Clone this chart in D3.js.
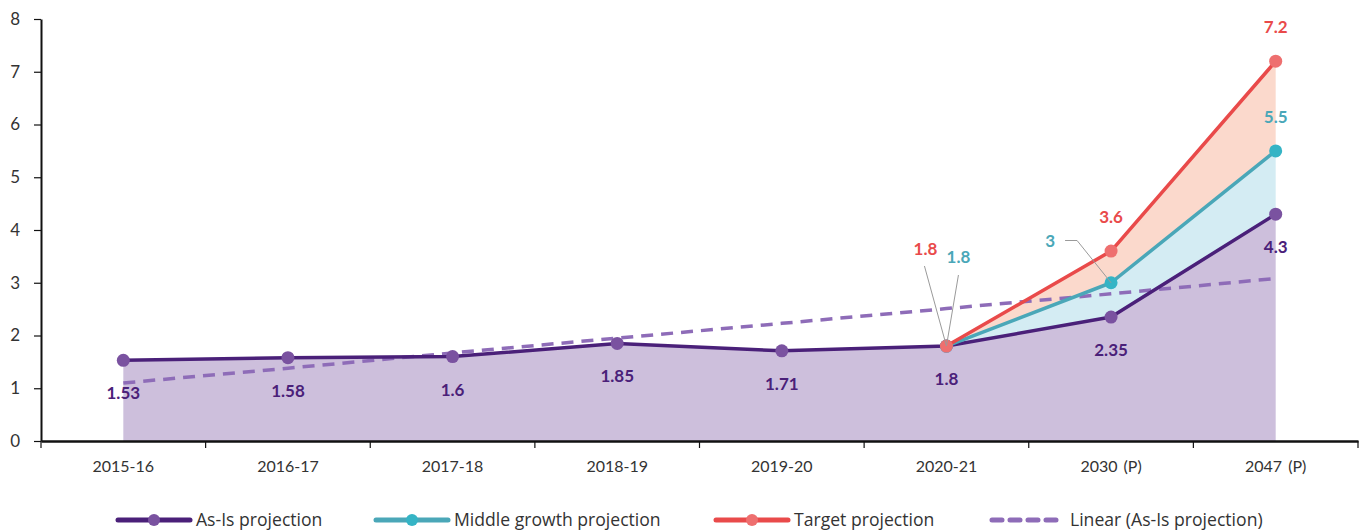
<!DOCTYPE html>
<html>
<head>
<meta charset="utf-8">
<script src="https://cdn.jsdelivr.net/npm/d3@7"></script>
<style>
  body { margin: 0; background: #fff; }
  text { font-family: Lato, "Open Sans", sans-serif; }
</style>
</head>
<body>
<div id="chart"></div>
<script>
// chart data
var categories = ['2015-16', '2016-17', '2017-18', '2018-19', '2019-20', '2020-21', '2030 (P)', '2047 (P)'];
var asIs = [1.53, 1.58, 1.6, 1.85, 1.71, 1.8, 2.35, 4.3];
var middle = [null, null, null, null, null, 1.8, 3, 5.5];
var target = [null, null, null, null, null, 1.8, 3.6, 7.2];
var linear = [1.10, 1.38, 1.67, 1.95, 2.23, 2.51, 2.79, 3.08];
var yTicks = [0, 1, 2, 3, 4, 5, 6, 7, 8];
var legendNames = ['As-Is projection', 'Middle growth projection', 'Target projection', 'Linear (As-Is projection)'];

var W = 1365, H = 531;
var col = {
  asIs: '#4a2079', asIsDot: '#7a52a0', asIsFill: '#cdbfdc',
  mid: '#4aa7b8', midDot: '#35b4c5', midFill: '#d4ecf3',
  tgt: '#e94a4a', tgtDot: '#ee6f6f', tgtFill: '#fbd9cc',
  lin: '#8e6cb8', text: '#333'
};

var svg = d3.select('#chart').append('svg').attr('width', W).attr('height', H);

var x = d3.scaleBand().domain(categories).range([41, 1358]).padding(0);
var y = d3.scaleLinear().domain([0, 8]).range([441, 19]);
function cx(i) { return x(categories[i]) + x.bandwidth() / 2; }

var idx = d3.range(categories.length);

// areas
var area = d3.area()
  .x(function(d) { return cx(d.i); })
  .y0(function(d) { return y(d.lo); })
  .y1(function(d) { return y(d.hi); });

svg.append('path')
  .attr('d', area(idx.map(function(i) { return {i: i, lo: 0, hi: asIs[i]}; })))
  .attr('fill', col.asIsFill);

var proj = idx.filter(function(i) { return middle[i] != null; });
svg.append('path')
  .attr('d', area(proj.map(function(i) { return {i: i, lo: asIs[i], hi: middle[i]}; })))
  .attr('fill', col.midFill);
svg.append('path')
  .attr('d', area(proj.map(function(i) { return {i: i, lo: middle[i], hi: target[i]}; })))
  .attr('fill', col.tgtFill);

// axes
var yAxis = svg.append('g')
  .attr('transform', 'translate(41,0)')
  .call(d3.axisLeft(y).tickValues(yTicks).tickSize(7).tickPadding(14).tickSizeOuter(0));
yAxis.select('.domain').attr('stroke', '#111').attr('stroke-width', 2);
yAxis.selectAll('.tick line').attr('stroke', '#111').attr('stroke-width', 1.2);
yAxis.selectAll('.tick text').attr('font-size', 17).attr('fill', col.text);

var xAxis = svg.append('g')
  .attr('transform', 'translate(0,441)')
  .call(d3.axisBottom(x).tickSize(0).tickPadding(20).tickSizeOuter(0));
xAxis.select('.domain').attr('stroke', '#111').attr('stroke-width', 2.5);
xAxis.selectAll('.tick text').attr('font-size', 16).attr('fill', col.text)
  .style('word-spacing', '2px');

// ticks sit at the band edges
var edges = categories.map(function(c) { return x(c); }).concat([x.range()[1]]);
svg.append('g').selectAll('line').data(edges).enter().append('line')
  .attr('x1', function(d) { return d; }).attr('x2', function(d) { return d; })
  .attr('y1', 441).attr('y2', 448)
  .attr('stroke', '#111').attr('stroke-width', 1.2);

// linear trend
var line = d3.line()
  .defined(function(d) { return d.v != null; })
  .x(function(d) { return cx(d.i); })
  .y(function(d) { return y(d.v); });

svg.append('path')
  .attr('d', line(idx.map(function(i) { return {i: i, v: linear[i]}; })))
  .attr('fill', 'none').attr('stroke', col.lin)
  .attr('stroke-width', 3.5).attr('stroke-dasharray', '12,8');

function series(vals, stroke, dot) {
  svg.append('path')
    .attr('d', line(idx.map(function(i) { return {i: i, v: vals[i]}; })))
    .attr('fill', 'none').attr('stroke', stroke).attr('stroke-width', 3.5)
    .attr('stroke-linejoin', 'round');
  svg.append('g').selectAll('circle')
    .data(idx.filter(function(i) { return vals[i] != null; }))
    .enter().append('circle')
    .attr('cx', function(i) { return cx(i); })
    .attr('cy', function(i) { return y(vals[i]); })
    .attr('r', 6.5).attr('fill', dot);
}
series(asIs, col.asIs, col.asIsDot);
series(middle, col.mid, col.midDot);
series(target, col.tgt, col.tgtDot);

// value labels
function label(xp, yp, txt, color) {
  svg.append('text')
    .attr('x', xp).attr('y', yp)
    .attr('text-anchor', 'middle')
    .attr('font-size', 17).attr('font-weight', 'bold')
    .attr('fill', color).text(txt);
}
idx.forEach(function(i) {
  label(cx(i), y(asIs[i]) + 39, asIs[i], col.asIs);
});
// end points above
[6, 7].forEach(function(i) {
  label(cx(i), y(target[i]) - 28, target[i], col.tgt);
});
label(cx(7), y(middle[7]) - 28, middle[7], col.mid);

// callouts at 2020-21 and 2030
var lead = svg.append('g').attr('fill', 'none').attr('stroke', '#9a9a9a').attr('stroke-width', 1);
var p5 = [cx(5), y(target[5])];
lead.append('path').attr('d', d3.line()([[p5[0] - 22, 266], p5]));
lead.append('path').attr('d', d3.line()([[p5[0] + 12, 275], p5]));
label(p5[0] - 21, 255, target[5], col.tgt);
label(p5[0] + 12, 263, middle[5], col.mid);

var p6 = [cx(6), y(middle[6])];
lead.append('path').attr('d', d3.line()([[p6[0] - 46, 240.5], [p6[0] - 34, 240.5], p6]));
label(p6[0] - 61, 247, middle[6], col.mid);

// legend
var leg = svg.append('g').attr('transform', 'translate(0,520)');
var legX = [118, 376, 716, 992];
var legStroke = [col.asIs, col.mid, col.tgt, col.lin];
var legDot = [col.asIsDot, col.midDot, col.tgtDot, null];
legendNames.forEach(function(n, k) {
  var g = leg.append('g').attr('transform', 'translate(' + legX[k] + ',0)');
  g.append('line').attr('x1', 0).attr('x2', 72).attr('y1', 0).attr('y2', 0)
    .attr('stroke', legStroke[k]).attr('stroke-width', 5)
    .attr('stroke-linecap', 'round')
    .attr('stroke-dasharray', k === 3 ? '10,8' : null);
  if (legDot[k]) g.append('circle').attr('cx', 36).attr('r', 6).attr('fill', legDot[k]);
  g.append('text').attr('x', 78).attr('y', 6)
    .style('font-family', '"Open Sans", sans-serif')
    .attr('font-size', 17.6).attr('fill', col.text).text(n);
});
</script>
</body>
</html>
